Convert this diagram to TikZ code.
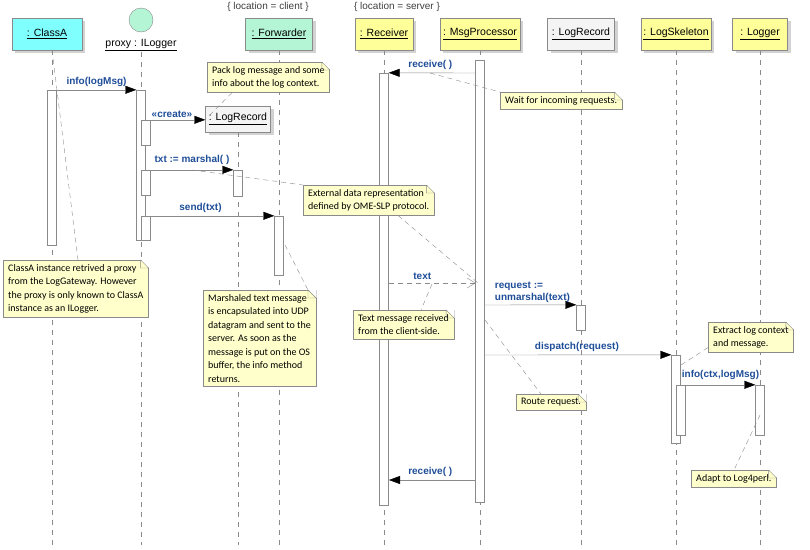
\documentclass[tikz,border=0pt]{standalone}
\usepackage{fontspec}
\setmainfont{Liberation Sans}
\newfontfamily\notefont{Carlito}
\usetikzlibrary{shadows,calc,arrows.meta}
\definecolor{lbl}{HTML}{1F4E99}
\definecolor{ln}{HTML}{8A8A8A}
\definecolor{notef}{HTML}{FFFFCC}
\definecolor{cyanf}{HTML}{80FFFF}
\definecolor{mintf}{HTML}{B3F5D5}
\definecolor{yelf}{HTML}{FFFF99}
\definecolor{grayf}{HTML}{F4F4F4}
\begin{document}
\begin{tikzpicture}[x=1pt,y=-1pt,
  obj/.style={draw=ln,rectangle,minimum height=32pt,font=\fontsize{10.5}{12}\selectfont,inner sep=2pt,
     drop shadow={opacity=0.35,shadow xshift=3pt,shadow yshift=-3pt}},
  life/.style={draw=ln,dashed,dash pattern=on 5pt off 5pt},
  act/.style={draw=ln,fill=white,rectangle,minimum width=9pt,inner sep=0pt},
  msg/.style={draw=ln,-{Triangle[length=11pt,width=8pt,fill=black,color=black]}},
  lab/.style={font=\bfseries\fontsize{10}{12}\selectfont,text=lbl,inner sep=1pt},
  note/.style={draw=ln,fill=notef,rectangle,font=\notefont\fontsize{10}{13.5}\selectfont,align=left,inner xsep=5pt,inner ysep=4pt},
  nl/.style={draw=ln,dashed,dash pattern=on 5pt off 4pt},
  cons/.style={font=\fontsize{10}{11}\selectfont,text=black!75}]
\useasboundingbox (0,0) rectangle (810,549);
\fill[white] (0,0) rectangle (810,549);
% headers
\node[obj,fill=cyanf,minimum width=70pt] (ca) at (47,34) {\underline{: ClassA}};
\node[circle,draw=ln,fill=mintf,minimum size=24pt,inner sep=0pt] (pc) at (141,20) {};
\node[font=\fontsize{10.5}{12}\selectfont,inner sep=1pt] (px) at (141,45) {\underline{proxy : ILogger}};
\node[obj,fill=mintf,minimum width=67pt] (fw) at (279,34) {\underline{: Forwarder}};
\node[obj,fill=yelf,minimum width=58pt] (rc) at (384,34) {\underline{: Receiver}};
\node[obj,fill=yelf,minimum width=80pt] (mp) at (480,34) {\underline{: MsgProcessor}};
\node[obj,fill=grayf,minimum width=67pt] (lr) at (581,34) {\underline{: LogRecord}};
\node[obj,fill=yelf,minimum width=70pt] (ls) at (676,34) {\underline{: LogSkeleton}};
\node[obj,fill=yelf,minimum width=55pt] (lg) at (760,34) {\underline{: Logger}};
\node[cons] (c1) at (268,7) {\{ location = client \}};
\node[cons] (c2) at (397,7) {\{ location = server \}};
\node[obj,fill=grayf,minimum width=65pt,minimum height=26pt] (lrc) at (238,119) {\underline{: LogRecord}};
% lifelines
\coordinate (caE) at (52,545); \coordinate (pxE) at (141,545); \coordinate (fwE) at (279,545);
\coordinate (lrcE) at (238,545); \coordinate (rcE) at (384,545); \coordinate (mpE) at (480,545);
\coordinate (lrE) at (581,545); \coordinate (lsE) at (676,545); \coordinate (lgE) at (760,545);
\draw[life] (52,50) -- (caE); \draw[life] (px.south) -- (pxE); \draw[life] (fw.south) -- (fwE);
\draw[life] (lrc.south) -- (lrcE); \draw[life] (rc.south) -- (rcE); \draw[life] (mp.south) -- (mpE);
\draw[life] (lr.south) -- (lrE); \draw[life] (ls.south) -- (lsE); \draw[life] (lg.south) -- (lgE);
% activations
\node[act,minimum height=155pt] (aCA) at (52,167.5) {};
\node[act,minimum height=150pt] (aPX) at (141,165) {};
\node[act,minimum height=25pt] (aPX1) at (146,132.5) {};
\node[act,minimum height=25pt] (aPX2) at (146,182.5) {};
\node[act,minimum height=24pt] (aPX3) at (146,228) {};
\node[act,minimum height=26pt] (aLRC) at (238,183) {};
\node[act,minimum height=59pt] (aFW) at (279,245.5) {};
\node[act,minimum height=432pt] (aRC) at (384,289) {};
\node[act,minimum height=442pt] (aMP) at (480,281) {};
\node[act,minimum height=25pt] (aLR) at (581,317.5) {};
\node[act,minimum height=88pt] (aLS) at (676,399) {};
\node[act,minimum height=50pt] (aLS1) at (681,410) {};
\node[act,minimum height=50pt] (aLG) at (760,410) {};
% messages
\draw[msg] (aCA.north east) -- (aPX.north west) node[lab,midway,above=2pt] {info(logMsg)};
\draw[msg] (aPX1.north east) -- (lrc.west |- aPX1.north) node[lab,midway,above=1pt,xshift=-6pt] {«create»};
\draw[msg] (aPX2.north east) -- (aLRC.north west |- aPX2.north) node[lab,midway,above=4pt] {txt := marshal( )};
\draw[msg] (aPX3.north east) -- (aFW.north west) node[lab,midway,above=2pt,xshift=-12pt] {send(txt)};
\coordinate (r1) at (476,73);
\draw[msg] (r1) -- (aRC.north east) node[lab,midway,above=2pt,xshift=-2pt] {receive( )};
\coordinate (t1) at (389,283); \coordinate (t2) at (475.5,283);
\draw[draw=ln,dashed,dash pattern=on 5pt off 4pt,-{Straight Barb[length=8pt,width=10pt]}] (t1) -- (t2) node[lab,midway,above=2pt,xshift=-10pt] {text};
\coordinate (u1) at (484.5,305);
\draw[msg] (u1) -- (aLR.north west) node[lab,midway,above=1pt,align=left,xshift=2pt] {request :=\\unmarshal(text)};
\coordinate (d1) at (484.5,355);
\draw[msg] (d1) -- (aLS.north west) node[lab,midway,above=2pt,xshift=-1pt] {dispatch(request)};
\draw[msg] (aLS1.north east) -- (aLG.north west) node[lab,midway,above=4pt] {info(ctx,logMsg)};
\coordinate (r2) at (475.5,480); \coordinate (r2e) at (389,480);
\draw[msg] (r2) -- (r2e) node[lab,midway,above=2pt,xshift=-2pt] {receive( )};
% notes
\node[note,anchor=north west] (n1) at (207,62) {Pack log message and some\\info about the log context.};
\node[note,anchor=north west] (n2) at (500,92) {Wait for incoming requests.};
\node[note,anchor=north west] (n3) at (303,185) {External data representation\\defined by OME-SLP protocol.};
\node[note,anchor=north west] (n4) at (3,260) {ClassA instance retrived a proxy\\from the LogGateway. However\\the proxy is only known to ClassA\\instance as an ILogger.};
\node[note,anchor=north west] (n5) at (203,290) {Marshaled text message\\is encapsulated into UDP\\datagram and sent to the\\server. As soon as the\\message is put on the OS\\buffer, the info method\\returns.};
\node[note,anchor=north west] (n6) at (353,310) {Text message received\\from the client-side.};
\node[note,anchor=north west] (n7) at (516,394) {Route request.};
\node[note,anchor=north west] (n8) at (708,322) {Extract log context\\and message.};
\node[note,anchor=north west] (n9) at (691,470) {Adapt to Log4perl.};
\foreach \n in {n1,n2,n3,n4,n5,n6,n7,n8,n9}{
  \fill[white] ($(\n.north east)+(-8,-0.6)$) -- ($(\n.north east)+(0.6,-0.6)$) -- ($(\n.north east)+(0.6,8)$) -- cycle;
  \draw[ln] ($(\n.north east)+(-8,0)$) -- ($(\n.north east)+(0,8)$) ($(\n.north east)+(-8,0)$) -- ($(\n.north east)+(-8,8)$) -- ($(\n.north east)+(0,8)$);
}
% note links
\coordinate (k1) at (207,118);
\draw[nl] ($(n1.south west)+(25,0)$) -- (k1);
\coordinate (k2) at (430,73);
\draw[nl] (k2) -- (n2.north west);
\coordinate (k3a) at (192,170); \coordinate (k3b) at (478,283);
\draw[nl] (k3a) -- (n3.north west); \draw[nl] ($(n3.south west)+(95,0)$) -- (k3b);
\coordinate (k4) at (52,50);
\draw[nl] (k4) -- ($(n4.north west)+(75,0)$);
\coordinate (k5) at (285,245);
\draw[nl] (k5) -- ($(n5.north west)+(105,0)$);
\coordinate (k6) at (432,284);
\draw[nl] (k6) -- ($(n6.north west)+(68,0)$);
\coordinate (k7) at (485,320);
\draw[nl] (k7) -- ($(n7.north west)+(25,0)$);
\coordinate (k8) at (681,365);
\draw[nl] (k8) -- ($(n8.south west)+(0,-5)$);
\coordinate (k9) at (760,415);
\draw[nl] (k9) -- ($(n9.north west)+(43,0)$);
\end{tikzpicture}
\end{document}
